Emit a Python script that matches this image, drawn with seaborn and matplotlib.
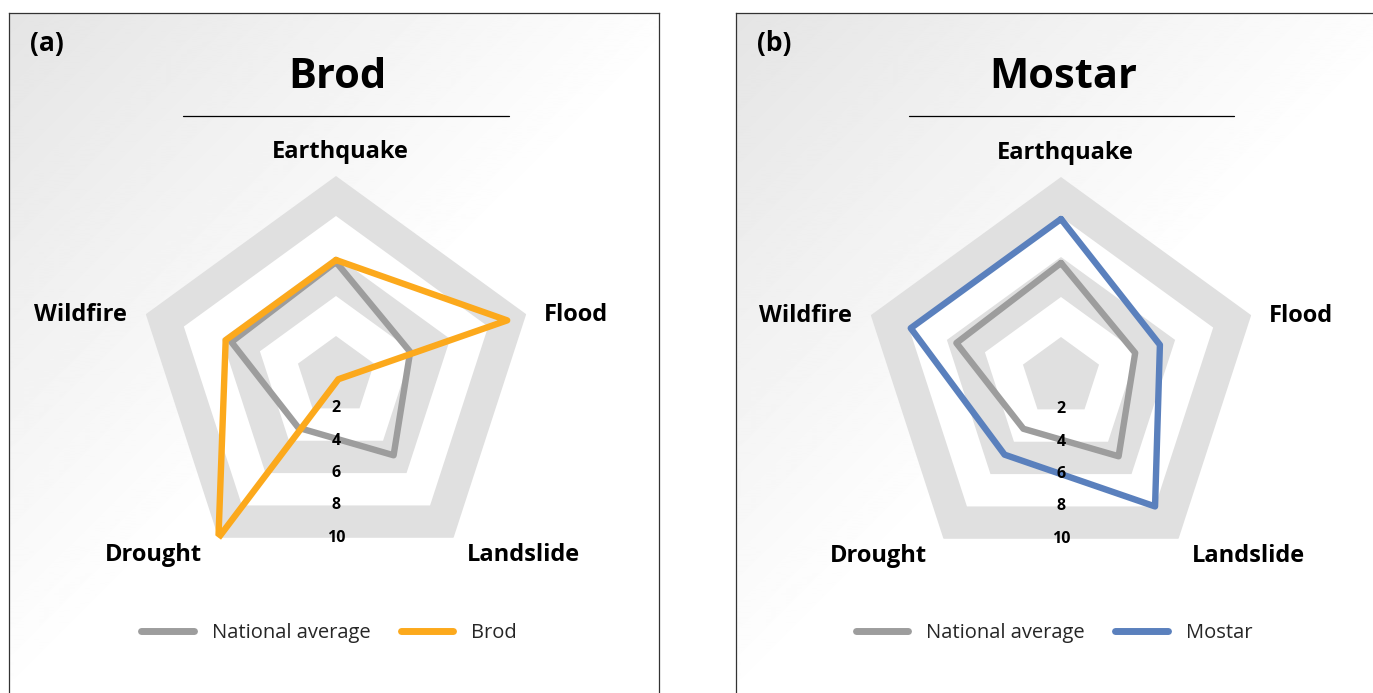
import numpy as np
import pandas as pd
import matplotlib
matplotlib.use("Agg")
import matplotlib.pyplot as plt
from matplotlib.lines import Line2D
import seaborn as sns

# ---------------- data ----------------
categories = ["Earthquake", "Flood", "Landslide", "Drought", "Wildfire"]
national_average = [5.7, 3.9, 4.9, 3.2, 5.5]
brod = [5.8, 9.0, 0.2, 10.0, 5.8]
mostar = [7.9, 5.2, 8.0, 4.8, 7.9]
tick_values = [2, 4, 6, 8, 10]
panel_titles = ["Brod", "Mostar"]
panel_letters = ["(a)", "(b)"]
series_names = ["National average", "Brod", "Mostar"]

GRAY = "#9d9d9d"
ORANGE = "#fca91c"
BLUE = "#5a80bd"
BAND = "#e0e0e0"

sns.set_theme(style="white")
plt.rcParams["font.family"] = ["Open Sans", "DejaVu Sans"]

W, H = 1373, 693
fig = plt.figure(figsize=(W / 100, H / 100), dpi=100)
fig.patch.set_facecolor("white")


def fx(px):
    return px / W


def fy(py):
    return 1 - py / H


panels = [
    dict(box_left=8.5, center=(336, 376), series=brod, name="Brod", color=ORANGE,
         title_x=337, line=(183, 509), letter_x=30),
    dict(box_left=735.5, center=(1061, 377), series=mostar, name="Mostar", color=BLUE,
         title_x=1063, line=(909, 1234), letter_x=757),
]

n = len(categories)
angles = [2 * np.pi * i / n for i in range(n)]

for i, p in enumerate(panels):
    # background panel with gradient and border
    bw, top = 650.5, 12.5
    bg = fig.add_axes([fx(p["box_left"]), -0.05, fx(bw), fy(top) + 0.05])
    gh, gw = 720, 660
    yy, xx = np.mgrid[0:gh, 0:gw]
    grad = 0.895 + 0.105 * np.clip((xx + yy) / 700.0, 0, 1)
    bg.imshow(grad, cmap="gray", vmin=0, vmax=1, extent=[0, gw, gh, 0], aspect="auto",
              interpolation="bilinear")
    bg.set_xlim(0, bw)
    bg.set_ylim(gh, 0)
    bg.set_xticks([])
    bg.set_yticks([])
    for s in bg.spines.values():
        s.set_color("#333333")
        s.set_linewidth(0.9)
    bg.set_zorder(0)

    # polar radar axes
    cx, cy = p["center"]
    R = 200
    ax = fig.add_axes([fx(cx - R), fy(cy + R), fx(2 * R), (2 * R) / H], projection="polar")
    ax.set_zorder(1)
    ax.set_facecolor("none")
    ax.set_theta_offset(np.pi / 2)
    ax.set_theta_direction(-1)

    closed = angles + [angles[0]]
    # alternating bands
    for k, lvl in enumerate(sorted(tick_values, reverse=True)):
        col = BAND if k % 2 == 0 else "white"
        ax.fill(closed, [lvl] * (n + 1), color=col, lw=0, zorder=1)

    rows = []
    for nm, vals in [("National average", national_average), (p["name"], p["series"])]:
        vv = list(vals) + [vals[0]]
        tt = angles + [2 * np.pi]
        for t, v in zip(tt, vv):
            rows.append(dict(theta=t, value=v, series=nm))
    df = pd.DataFrame(rows)
    sns.lineplot(data=df, x="theta", y="value", hue="series", sort=False, estimator=None,
                 palette={"National average": GRAY, p["name"]: p["color"]},
                 linewidth=4.6, ax=ax, legend=False, zorder=3)
    for ln in ax.get_lines():
        ln.set_solid_joinstyle("round")
        ln.set_solid_capstyle("round")

    ax.set_ylim(0, 10)
    ax.set_xlabel("")
    ax.set_ylabel("")
    ax.set_xticks([])
    ax.set_yticks([])
    ax.grid(False)
    ax.spines["polar"].set_visible(False)

    # tick labels placed along the downward direction
    for v in tick_values:
        ax.text(np.pi, v * np.cos(np.pi / 5), str(v), ha="center", va="center",
                fontsize=11.5, fontweight="bold", color="black", zorder=5)

    # category labels
    offsets = [(4, 24), (50, -1), (70, -17), (-65, -17), (-65, -1)]
    for ang, cat, off in zip(angles, categories, offsets):
        ax.annotate(cat, xy=(ang, 10), xycoords="data", xytext=off,
                    textcoords="offset pixels", ha="center", va="center",
                    fontsize=17, fontweight="bold", color="black",
                    annotation_clip=False, zorder=6)

    # title, underline, letter
    fig.text(fx(p["title_x"]), fy(77), panel_titles[i], ha="center", va="center",
             fontsize=30, fontweight="bold", color="black", zorder=5)
    x0, x1 = p["line"]
    fig.add_artist(Line2D([fx(x0), fx(x1)], [fy(116), fy(116)], color="black", lw=0.9,
                          transform=fig.transFigure, zorder=5))
    fig.text(fx(p["letter_x"]), fy(44), panel_letters[i], ha="left", va="center",
             fontsize=19, fontweight="bold", color="black", zorder=5)

    # legend
    handles = [Line2D([0], [0], color=GRAY, lw=5, solid_capstyle="round"),
               Line2D([0], [0], color=p["color"], lw=5, solid_capstyle="round")]
    lx = (cx - 336) + 329
    leg = fig.legend(handles, ["National average", p["name"]], loc="center",
                     bbox_to_anchor=(fx(lx), fy(633)), ncol=2, frameon=False,
                     fontsize=14.5, handlelength=2.6, handletextpad=0.9, columnspacing=1.5)
    leg.set_zorder(6)

fig.savefig("out.png", dpi=100, facecolor="white")
